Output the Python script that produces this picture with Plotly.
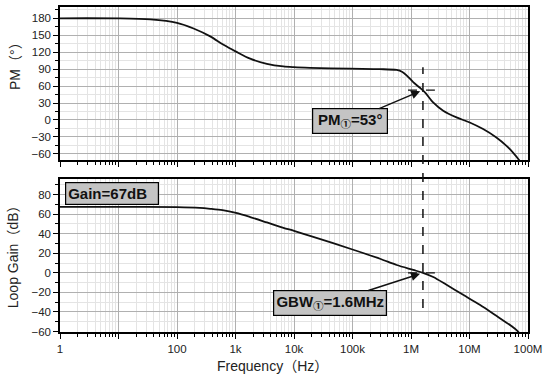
import math
import plotly.graph_objects as go

# ---------------- data ----------------
phase_freq = [1, 10, 35, 100, 192, 370, 624, 1020, 1780, 3440, 6590, 10000, 18800,
              90600, 295000, 568000, 700000, 841000, 1090000, 1420000, 1730000, 2390000,
              3550000, 6000000, 10100000, 17100000, 28800000, 42900000, 55500000,
              72100000, 90000000]
phase_deg = [180, 179.8, 178, 172, 162, 148, 133, 121, 108.5, 99.5, 94.7, 93.4, 92.3,
             90.8, 90, 88.5, 85.5, 79, 67, 57, 49, 31.2, 16.4, 4.5, -4.4, -16.1, -31, -45.8,
             -57.7, -72.5, -90]

gain_freq = [1, 10, 100, 245, 370, 600, 1020, 1780, 3440, 6590, 10000, 18800, 103000, 295000,
             568000, 1090000, 1600000, 2400000, 4050000, 7780000, 15000000, 28800000,
             55500000, 63100000, 80000000]
gain_db = [67.4, 67.4, 67.1, 66.3, 65.4, 64.0, 61.2, 57.0, 51.5, 46.0, 42.9, 37.8, 23.6, 14.4,
           8.0, 3.0, 0.0, -4.3, -12.2, -22.5, -32.7, -44.0, -55.6, -58.3, -65.0]

decade_vals = [1, 10, 100, 1e3, 1e4, 1e5, 1e6, 1e7, 1e8]
decade_text = ["1", " ", "100", "1k", "10k", "100k", "1M", "10M", "100M"]
minor_vals = [m * d for d in decade_vals[:-1] for m in range(2, 10)]

GBW_HZ = 1.6e6
PM_DEG = 53
GAIN_DC = 67

FONT = "Liberation Sans, Arial, Noto Sans CJK SC, sans-serif"
TXT = "#222222"
TICK = 11.5

fig = go.Figure()
fig.add_trace(go.Scatter(x=phase_freq, y=phase_deg, mode="lines",
                         line=dict(color="#111111", width=1.8, shape="spline", smoothing=0.8),
                         xaxis="x", yaxis="y", showlegend=False))
fig.add_trace(go.Scatter(x=gain_freq, y=gain_db, mode="lines",
                         line=dict(color="#111111", width=1.8, shape="spline", smoothing=0.8),
                         xaxis="x2", yaxis="y2", showlegend=False))

xcommon = dict(type="log", range=[0, 8], tickvals=decade_vals, ticks="outside", ticklen=5,
               tickwidth=1, tickcolor="black", showgrid=True, gridcolor="#b0b0b0", gridwidth=1,
               showline=True, linecolor="black", linewidth=1.5, mirror=True, zeroline=False,
               automargin=False,
               minor=dict(tickvals=minor_vals, ticks="outside", ticklen=3, tickcolor="black",
                          showgrid=True, gridcolor="#e4e4e4", gridwidth=1),
               tickfont=dict(family=FONT, size=TICK, color=TXT))

fig.update_layout(
    width=550, height=381,
    margin=dict(l=60, r=22, t=7, b=49),
    paper_bgcolor="white", plot_bgcolor="white",
    font=dict(family=FONT, color=TXT),
    xaxis=dict(domain=[0, 1], anchor="y", showticklabels=False, **xcommon),
    xaxis2=dict(domain=[0, 1], anchor="y2", ticktext=decade_text, matches="x", **xcommon),
    yaxis=dict(domain=[0.529, 1.0], anchor="x", range=[-71, 200], tick0=0, dtick=30,
               ticks="outside", ticklen=5, tickcolor="black", showgrid=True, gridcolor="#b0b0b0",
               showline=True, linecolor="black", linewidth=1.5, mirror=True, zeroline=False,
               automargin=False,
               minor=dict(dtick=15, ticks="outside", ticklen=3, tickcolor="black",
                          showgrid=True, gridcolor="#e4e4e4"),
               tickfont=dict(family=FONT, size=TICK, color=TXT)),
    yaxis2=dict(domain=[0, 0.471], anchor="x2", range=[-60.5, 96], tick0=0, dtick=20,
                ticks="outside", ticklen=5, tickcolor="black", showgrid=True, gridcolor="#b0b0b0",
                showline=True, linecolor="black", linewidth=1.5, mirror=True, zeroline=False,
                automargin=False,
                minor=dict(dtick=10, ticks="outside", ticklen=3, tickcolor="black",
                           showgrid=True, gridcolor="#e4e4e4"),
                tickfont=dict(family=FONT, size=TICK, color=TXT)),
)

# vertical dashed marker at GBW, spanning both panels
fig.add_shape(type="line", xref="x", yref="paper", x0=GBW_HZ, x1=GBW_HZ, y0=0.074, y1=0.815,
              line=dict(color="#111111", width=1.5, dash="dash"))
# crosshair dashes
fig.add_shape(type="line", xref="x", yref="y", x0=GBW_HZ / 1.8, x1=GBW_HZ * 1.6, y0=PM_DEG, y1=PM_DEG,
              line=dict(color="#111111", width=1.2, dash="dash"))
fig.add_shape(type="line", xref="x2", yref="y2", x0=GBW_HZ / 1.8, x1=GBW_HZ * 1.6, y0=0, y1=0,
              line=dict(color="#111111", width=1.2, dash="dash"))

box = dict(bgcolor="#c4c4c4", bordercolor="black", borderwidth=1.2, borderpad=2,
           font=dict(family=FONT, size=15, color="#111111"))

fig.add_annotation(x=math.log10(GBW_HZ), y=PM_DEG, xref="x", yref="y",
                   text="<b>PM<sub>①</sub>=%d°</b>" % PM_DEG, width=70,
                   showarrow=True, ax=-73, ay=31, arrowhead=2, arrowsize=1.2, arrowwidth=1.5,
                   arrowcolor="#111111", standoff=3, **box)
fig.add_annotation(x=math.log10(GBW_HZ), y=0, xref="x2", yref="y2",
                   text="<b>GBW<sub>①</sub>=%.1fMHz</b>" % (GBW_HZ / 1e6), width=108,
                   showarrow=True, ax=-93, ay=30, arrowhead=2, arrowsize=1.2, arrowwidth=1.5,
                   arrowcolor="#111111", standoff=3, **box)
fig.add_annotation(x=0.0107, y=0.98, xref="paper", yref="y2 domain", xanchor="left", yanchor="top",
                   text="<b>Gain=%ddB</b>" % GAIN_DC, width=88, align="left", showarrow=False, **box)

# axis titles
fig.add_annotation(x=-0.096, y=0.828, xref="paper", yref="paper", text="PM（°）", textangle=-90,
                   xanchor="center", yanchor="middle",
                   showarrow=False, font=dict(family=FONT, size=14, color=TXT))
fig.add_annotation(x=-0.1, y=0.243, xref="paper", yref="paper", text="Loop Gain（dB）", textangle=-90,
                   xanchor="center", yanchor="middle",
                   showarrow=False, font=dict(family=FONT, size=14, color=TXT))
fig.add_annotation(x=0.453, y=-0.105, xref="paper", yref="paper", text="Frequency（Hz）",
                   xanchor="center", yanchor="middle",
                   showarrow=False, font=dict(family=FONT, size=14, color=TXT))

fig.write_html("out.html", config={"displayModeBar": False},
               post_script="document.body.style.margin='0px';")
